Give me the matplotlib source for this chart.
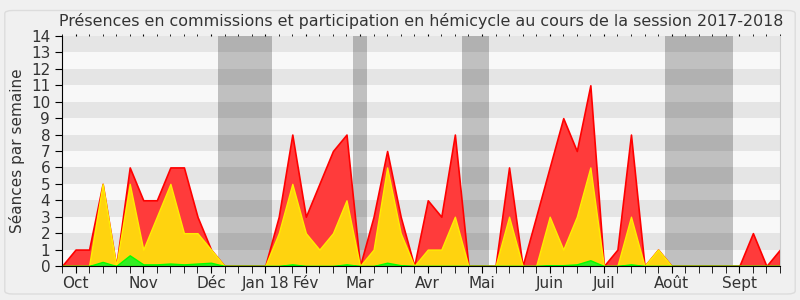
import matplotlib
matplotlib.use("Agg")
import matplotlib.pyplot as plt
from matplotlib.patches import FancyBboxPatch
import numpy as np

# weekly values (Sept 2017 -> Sept 2018)
total = [0, 1, 1, 5, 0, 6, 4, 4, 6, 6, 3, 1, 0, 0, 0, 0, 3, 8, 3, 5,
         7, 8, 0, 3, 7, 3, 0, 4, 3, 8, 0, 0, 0, 6, 0, 3, 6, 9, 7, 11,
         0, 1, 8, 0, 1, 0, 0, 0, 0, 0, 0, 2, 0, 1]
hemicycle = [0, 0, 0, 5, 0, 5, 1, 3, 5, 2, 2, 1, 0, 0, 0, 0, 2, 5, 2, 1,
             2, 4, 0, 1, 6, 2, 0, 1, 1, 3, 0, 0, 0, 3, 0, 0, 3, 1, 3, 6,
             0, 0, 3, 0, 1, 0, 0, 0, 0, 0, 0, 0, 0, 0]
commissions = [0, 0, 0, 0.25, 0, 0.65, 0.1, 0.1, 0.15, 0.1, 0.15, 0.2, 0, 0, 0, 0, 0, 0.1, 0, 0,
               0, 0.1, 0, 0, 0.2, 0.05, 0, 0, 0, 0, 0, 0, 0, 0, 0, 0, 0.05, 0.05, 0.1, 0.35,
               0, 0, 0.1, 0, 0, 0, 0, 0, 0, 0, 0, 0, 0, 0]
# vacances parlementaires (in weeks)
vacances = [(11.5, 15.5), (21.5, 22.5), (29.5, 31.5), (44.5, 49.5)]
mois = ['Oct', 'Nov', 'Déc', 'Jan 18', 'Fév', 'Mar', 'Avr', 'Mai', 'Juin', 'Juil', 'Août', 'Sept']
mois_pos = [1, 6, 11, 15, 18, 22, 27, 31, 36, 40, 45, 50]

weeks = np.arange(len(total))

fig = plt.figure(figsize=(8, 3), dpi=100, facecolor='#f0f0f0')
fig.patches.append(FancyBboxPatch((0.006, 0.02), 0.988, 0.945, boxstyle="round,pad=0,rounding_size=0.01",
                                  transform=fig.transFigure, facecolor='none', edgecolor='#dcdcdc', lw=1))
ax = fig.add_axes([0.0775, 0.1133, 0.8975, 0.7667])
ax.set_facecolor('#f8f8f8')

for a, b in vacances:
    ax.axvspan(a, b, color='#c0c0c0', lw=0, zorder=1)
for i in range(1, 14, 2):
    ax.axhspan(i, i + 1, color='black', alpha=0.075, lw=0, zorder=2)

ax.fill_between(weeks, 0, total, facecolor='#ff3b3b', edgecolor='#ff0000', lw=1.2, zorder=3)
ax.fill_between(weeks, 0, hemicycle, facecolor='#ffd30f', edgecolor='#ffee00', lw=1, zorder=4)
ax.fill_between(weeks, 0, commissions, facecolor='#33ee22', edgecolor='#00ff00', lw=1, zorder=5)

ax.set_xlim(0, len(total) - 1)
ax.set_ylim(0, 14)
ax.set_yticks(range(15))
ax.set_xticks(mois_pos)
ax.set_xticklabels(mois)
ax.set_xticks(weeks, minor=True)
ax.tick_params(axis='y', labelsize=11, length=5, color='black', labelcolor='#333333')
ax.tick_params(axis='x', which='both', length=5, labelsize=11, color='black', labelcolor='#333333',
               top=True, labeltop=False, direction='out', pad=2)
# short dotted ticks along the top
for t in ax.xaxis.get_major_ticks() + ax.xaxis.get_minor_ticks():
    t.tick2line.set_markersize(1.5)

ax.spines['top'].set_visible(False)
ax.spines['right'].set_color('#cccccc')
ax.spines['left'].set_color('black')
ax.spines['bottom'].set_color('black')
for s in ax.spines.values():
    s.set_zorder(10)

ax.set_ylabel('Séances par semaine', fontsize=11, color='#333333')
ax.set_title('Présences en commissions et participation en hémicycle au cours de la session 2017-2018',
             fontsize=11.4, color='#333333', pad=7)

plt.savefig('out.png', dpi=100, facecolor=fig.get_facecolor())
